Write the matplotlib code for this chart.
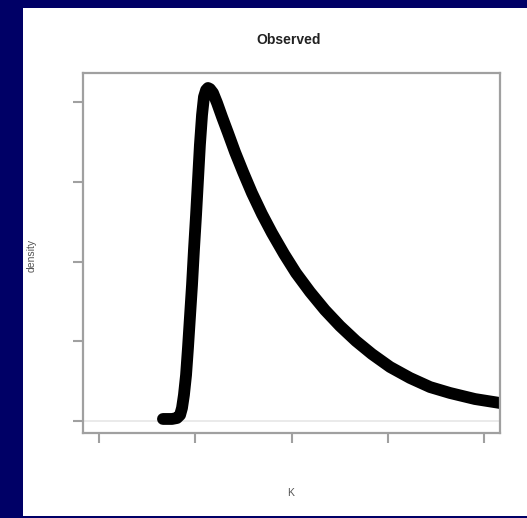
import matplotlib
matplotlib.use("Agg")
import matplotlib.pyplot as plt
from matplotlib.patches import Rectangle

# Kernel density estimate of the observed K values
k_values = [3.32, 3.79, 4.05, 4.21, 4.31, 4.41, 4.52, 4.62, 4.72, 4.83, 4.93,
            5.04, 5.14, 5.24, 5.35, 5.45, 5.56, 5.66, 5.76, 5.92, 6.13, 6.39,
            6.70, 7.06, 7.48, 7.94, 8.46, 8.98, 9.61, 10.23, 10.96, 11.73,
            12.51, 13.34, 14.17, 15.11, 16.15, 17.19, 18.22, 19.52, 20.82]
density = [0.0013, 0.0013, 0.0019, 0.0038, 0.0082, 0.0163, 0.0288, 0.0458,
           0.0646, 0.0853, 0.1072, 0.1292, 0.1511, 0.1731, 0.1919, 0.2032,
           0.2075, 0.2088, 0.2082, 0.2057, 0.1994, 0.1906, 0.1806, 0.1687,
           0.1561, 0.1430, 0.1298, 0.1179, 0.1047, 0.0928, 0.0809, 0.0696,
           0.0596, 0.0502, 0.0420, 0.0339, 0.0270, 0.0213, 0.0176, 0.0138,
           0.0113]
x_ticks = [0, 5, 10, 15, 20]
y_ticks = [0, 0.05, 0.10, 0.15, 0.20]

plt.rcParams['font.family'] = ['Liberation Sans', 'DejaVu Sans']

W, H = 527, 518
fig = plt.figure(figsize=(W / 100, H / 100), dpi=100)
fig.patch.set_facecolor('#000066')

# white page inside the dark border
fig.add_artist(Rectangle((23 / W, (H - 516) / H), (W - 23) / W, 508 / H,
                         transform=fig.transFigure, facecolor='white',
                         edgecolor='none', zorder=0))

ax = fig.add_axes([83 / W, (H - 433) / H, 417 / W, 360 / H])
ax.set_facecolor('white')
ax.axhline(0, color='#e6e6e6', lw=1.2, zorder=1)
ax.plot(k_values, density, color='black', lw=8.5, solid_capstyle='round',
        solid_joinstyle='round', zorder=2)

ax.set_xlim(-0.83, 20.82)
ax.set_ylim(-0.0075, 0.2182)
ax.set_xticks(x_ticks)
ax.set_yticks(y_ticks)
ax.set_xticklabels([])
ax.set_yticklabels([])
ax.tick_params(axis='both', length=7, width=1.5, color='#a0a0a0', direction='out')
for s in ax.spines.values():
    s.set_color('#a0a0a0')
    s.set_linewidth(1.6)

fig.text(289 / W, 1 - 40 / H, 'Observed', ha='center', va='center',
         fontsize=10, fontweight='bold', color='#222222')
fig.text(291 / W, 1 - 493 / H, 'K', ha='center', va='center',
         fontsize=7.5, color='#555555')
fig.text(32 / W, 1 - 255 / H, 'density', ha='center', va='center',
         rotation=90, fontsize=7.5, color='#555555')

fig.savefig('out.png', dpi=100, facecolor=fig.get_facecolor())
